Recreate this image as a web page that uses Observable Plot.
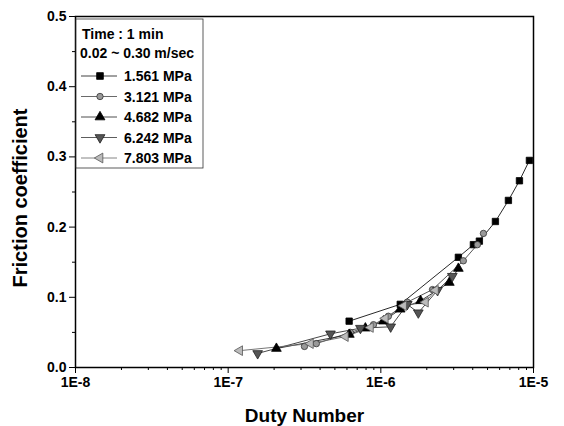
<!DOCTYPE html>
<html><head><meta charset="utf-8">
<script src="https://cdn.jsdelivr.net/npm/d3@7"></script>
<script src="https://cdn.jsdelivr.net/npm/@observablehq/plot@0.6"></script>
<style>
body{margin:0;background:#fff;}
#chart{position:relative;width:564px;height:426px;}
</style>
</head><body><div id="chart"></div>
<script>
const seriesNames = ["1.561 MPa","3.121 MPa","4.682 MPa","6.242 MPa","7.803 MPa"];
const s1561 = [[6.2e-7,0.066],[1.34e-6,0.090],[3.22e-6,0.157],[4.04e-6,0.175],[4.42e-6,0.180],[5.63e-6,0.208],[6.85e-6,0.238],[8.09e-6,0.266],[9.4e-6,0.295]];
const s3121 = [[3.16e-7,0.030],[3.78e-7,0.034],[6.32e-7,0.050],[8.95e-7,0.061],[1.12e-6,0.073],[1.49e-6,0.093],[2.18e-6,0.111],[3.47e-6,0.152],[4.29e-6,0.175],[4.70e-6,0.191]];
const s4682 = [[2.07e-7,0.027],[6.22e-7,0.047],[7.92e-7,0.056],[1.04e-6,0.066],[1.34e-6,0.083],[1.82e-6,0.095],[2.81e-6,0.121],[3.22e-6,0.141]];
const s6242 = [[1.56e-7,0.020],[4.68e-7,0.048],[7.35e-7,0.056],[1.16e-6,0.058],[1.49e-6,0.090],[1.76e-6,0.078],[2.35e-6,0.110],[2.94e-6,0.130]];
const s7803 = [[1.19e-7,0.024],[3.46e-7,0.034],[5.86e-7,0.044],[8.55e-7,0.057],[1.07e-6,0.070],[1.41e-6,0.088],[1.96e-6,0.093],[2.28e-6,0.110]];
const xTicks = [1e-8,1e-7,1e-6,1e-5];
const xTickLabels = ["1E-8","1E-7","1E-6","1E-5"];
const yTicks = [0,0.1,0.2,0.3,0.4,0.5];
const yMinor = [0.05,0.15,0.25,0.35,0.45];
const xMinor = [1e-8,1e-7,1e-6].flatMap(d => [2,3,4,5,6,7,8,9].map(k => d*k));

const styles = [
  {symbol:"square", rotate:0, fill:"#000", stroke:"#000", r:3.6, line:"#111"},
  {symbol:"circle", rotate:0, fill:"#999", stroke:"#333", r:3.2, line:"#444"},
  {symbol:"triangle", rotate:0, fill:"#000", stroke:"#000", r:3.6, line:"#222"},
  {symbol:"triangle", rotate:180, fill:"#555", stroke:"#222", r:3.6, line:"#333"},
  {symbol:"triangle", rotate:-90, fill:"#bbb", stroke:"#555", r:3.6, line:"#666"}
];
const all = [s1561,s3121,s4682,s6242,s7803];
const data = all.flatMap((s,i) => s.map(([x,y]) => ({x, y, series: seriesNames[i], i})));

const font = "'Liberation Sans', Arial, sans-serif";
const marks = [
  Plot.frame({stroke:"#000", strokeWidth:1.5}),
  Plot.axisY({ticks:yTicks, tickSize:6, tickFormat:d3.format(".1f"), fontSize:14, fontWeight:"bold", label:null, tickPadding:3}),
  Plot.axisY({ticks:yMinor, tickSize:3, tickFormat:()=>"", label:null}),
  Plot.axisX({ticks:xTicks, tickSize:6, tickFormat:(d)=>xTickLabels[xTicks.indexOf(d)], fontSize:14, fontWeight:"bold", label:null, tickPadding:4}),
  Plot.axisX({ticks:xMinor, tickSize:3, tickFormat:()=>"", label:null}),
  Plot.text(["Duty Number"], {frameAnchor:"bottom", lineAnchor:"middle", dy:48, fontSize:19, fontWeight:"bold", fill:"#000", style:{letterSpacing:"0.5px"}}),
  Plot.text(["Friction coefficient"], {frameAnchor:"left", textAnchor:"middle", lineAnchor:"middle", dx:-55, dy:6, rotate:-90, fontSize:20, fontWeight:"bold", fill:"#000"})
];
all.forEach((s,i) => {
  const d = data.filter(e => e.i === i);
  marks.push(Plot.line(d, {x:"x", y:"y", stroke:styles[i].line, strokeWidth:0.9}));
});
all.forEach((s,i) => {
  const d = data.filter(e => e.i === i);
  const st = styles[i];
  marks.push(Plot.dot(d, {x:"x", y:"y", symbol:()=>st.symbol, r:st.r, fill:st.fill, stroke:st.stroke, strokeWidth:0.8, rotate:st.rotate}));
});

const plot = Plot.plot({
  width:564, height:426,
  marginLeft:75, marginRight:31, marginTop:16, marginBottom:59,
  style:{fontFamily:font, color:"#000", background:"#fff"},
  x:{type:"log", domain:[1e-8,1e-5]},
  y:{domain:[0,0.5]},
  symbol:{type:"identity"},
  marks
});
document.getElementById("chart").appendChild(plot);

// Legend (inside plot, top-left)
const svg = d3.select(plot);
const lg = svg.append("g").attr("font-family", font).attr("font-weight","bold").attr("fill","#000").attr("text-anchor","start");
lg.append("rect").attr("x",76).attr("y",19).attr("width",127).attr("height",149).attr("fill","#fff").attr("stroke","#333").attr("stroke-width",0.8);
lg.append("text").attr("x",82).attr("y",39).attr("font-size",14).text("Time : 1 min");
lg.append("text").attr("x",80).attr("y",58).attr("font-size",14).text("0.02 ~ 0.30 m/sec");
seriesNames.forEach((name,i) => {
  const y = 76 + i*20.5;
  const st = styles[i];
  lg.append("line").attr("x1",81).attr("x2",117).attr("y1",y).attr("y2",y).attr("stroke",st.line).attr("stroke-width",0.8);
  const sym = d3.symbol(st.symbol === "square" ? d3.symbolSquare : st.symbol === "circle" ? d3.symbolCircle : d3.symbolTriangle, st.symbol==="square" ? 45 : st.symbol==="circle" ? 32 : 42);
  lg.append("path").attr("d", sym()).attr("transform",`translate(100,${y}) rotate(${st.rotate})`).attr("fill",st.fill).attr("stroke",st.stroke).attr("stroke-width",0.8);
  lg.append("text").attr("x",124).attr("y",y+5).attr("font-size",14).text(name);
});
</script>
</body></html>
